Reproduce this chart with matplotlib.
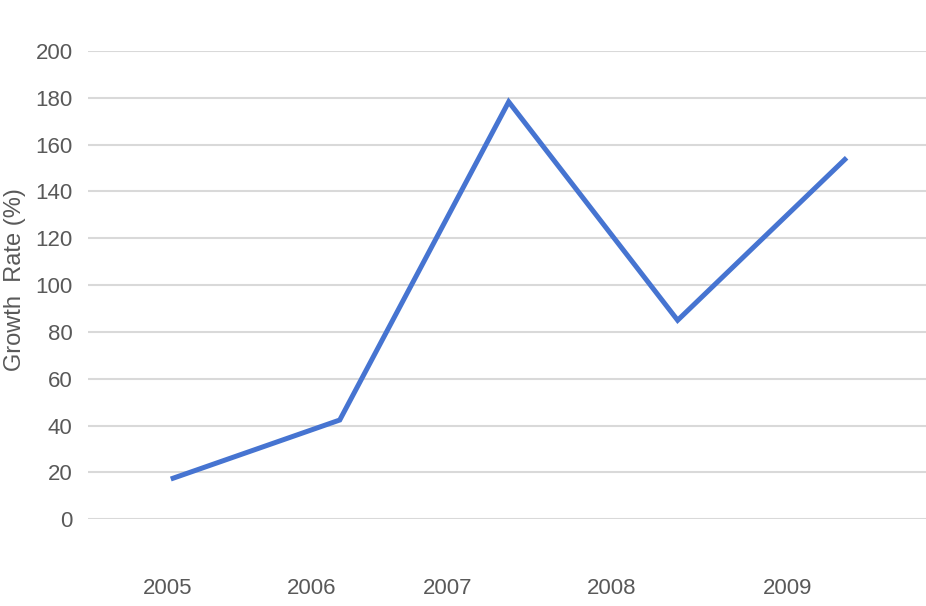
import matplotlib
matplotlib.use("Agg")
import matplotlib.pyplot as plt

years = ["2005", "2006", "2007", "2008", "2009"]
growth = [17.2, 42.4, 178.3, 85.0, 154.4]
# tick label positions (labels are offset from the points in the reference)
label_pos = [-0.018, 0.834, 1.639, 2.609, 3.651]
yticks = [0, 20, 40, 60, 80, 100, 120, 140, 160, 180, 200]

plt.rcParams['font.family'] = ['Liberation Sans', 'DejaVu Sans']

fig = plt.figure(figsize=(9.26, 6.06), dpi=100)
W, H = 926, 606
ax = fig.add_axes([88 / W, 1 - 519.3 / H, (926 - 88) / W, (519.3 - 51) / H])

x = list(range(len(years)))
ax.plot(x, growth, color='#4674d1', lw=3.6, solid_joinstyle='miter', solid_capstyle='butt', zorder=3)

ax.set_xlim(-0.49, 4.47)
ax.set_ylim(0, 200)
ax.set_yticks(yticks)
ax.set_yticklabels([str(v) for v in yticks])
ax.set_xticks(label_pos)
ax.set_xticklabels(years)

ax.grid(axis='y', color='#d9d9d9', lw=1.5)
ax.set_axisbelow(True)
for s in ax.spines.values():
    s.set_visible(False)
ax.tick_params(axis='both', length=0, colors='#595959', labelsize=16)
ax.tick_params(axis='y', pad=11)
ax.tick_params(axis='x', pad=42)

fig.text(15 / W, 1 - 280 / H, "Growth  Rate (%)", rotation=90, ha='center', va='center',
         fontsize=17, color='#595959')

fig.savefig("out.png", dpi=100)
